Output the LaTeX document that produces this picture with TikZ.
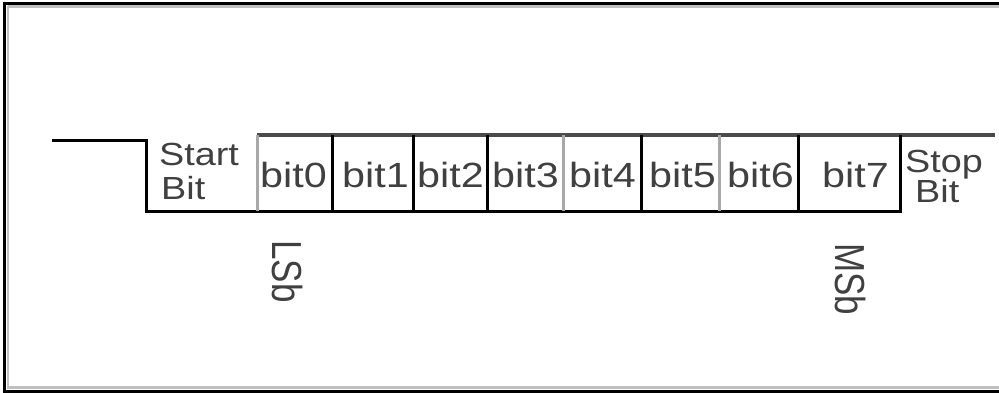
\documentclass[tikz,border=0pt]{standalone}
\usepackage{fontspec}
\usepackage{graphicx}
\setmainfont{Liberation Sans}
\definecolor{txt}{HTML}{404040}
\definecolor{frameg}{HTML}{C0C0C0}
\definecolor{topg}{HTML}{4A4A4A}
\definecolor{divg}{HTML}{A8A8A8}
\tikzset{
  lbl/.style={inner sep=0pt, text=txt, font=\fontsize{35}{37}\selectfont, anchor=base west},
  slbl/.style={inner sep=0pt, text=txt, font=\fontsize{32}{34}\selectfont, anchor=base west},
  vlbl/.style={inner sep=0pt, text=txt, font=\fontsize{35}{37}\selectfont, anchor=north},
  sig/.style={draw=black, line width=3pt},
  divb/.style={draw=black, line width=3pt},
  divl/.style={draw=divg, line width=3pt},
}
\newcommand{\wide}[1]{\scalebox{1.18}[1]{#1}}
\begin{document}
\begin{tikzpicture}[x=1pt,y=-1pt]
\useasboundingbox (0,0) rectangle (999,393);
% frame
\draw[draw=frameg, line width=2.5pt] (8,6.5) -- (999,6.5);
\draw[draw=frameg, line width=2.5pt] (8,6.5) -- (8,387.5) -- (999,387.5);
\draw[draw=black, line width=3pt] (4.5,3.5) -- (999,3.5);
\draw[draw=black, line width=3pt] (4.5,2) -- (4.5,391) -- (999,391);
% labels
\node[slbl] (start) at (159,165) {\wide{Start}};
\node[slbl] (startbit) at (161,200) {\wide{Bit}};
\node[lbl] (b0) at (260,188) {\wide{bit0}};
\node[lbl] (b1) at (342,188) {\wide{bit1}};
\node[lbl] (b2) at (417,188) {\wide{bit2}};
\node[lbl] (b3) at (492,188) {\wide{bit3}};
\node[lbl] (b4) at (569,188) {\wide{bit4}};
\node[lbl] (b5) at (649,188) {\wide{bit5}};
\node[lbl] (b6) at (727,188) {\wide{bit6}};
\node[lbl] (b7) at (822,188) {\wide{bit7}};
\node[slbl] (stop) at (905,172) {\wide{Stop}};
\node[slbl] (stopbit) at (915,203) {\wide{Bit}};
\node[vlbl] (lsb) at (288,240) {\scalebox{1.2}[1]{\rotatebox{-90}{LSb}}};
\node[vlbl] (msb) at (851,243) {\scalebox{1.2}[1]{\rotatebox{-90}{MSb}}};
% waveform
\coordinate (idle) at (52,141);
\coordinate (fall) at (146,141);
\coordinate (low) at (146,211);
\coordinate (lowend) at (900,211);
\coordinate (hi0) at (257,135);
\coordinate (hiend) at (995,135);
\draw[sig] (idle) -- (fall) -- (low) -- (lowend);
\draw[draw=topg, line width=4.5pt] (hi0) -- (hiend);
\foreach \x in {257,563,719} \draw[divl] (\x,135) -- (\x,211);
\foreach \x in {332,413,487,641,798,900} \draw[divb] (\x,135) -- (\x,212.5);
\end{tikzpicture}
\end{document}
